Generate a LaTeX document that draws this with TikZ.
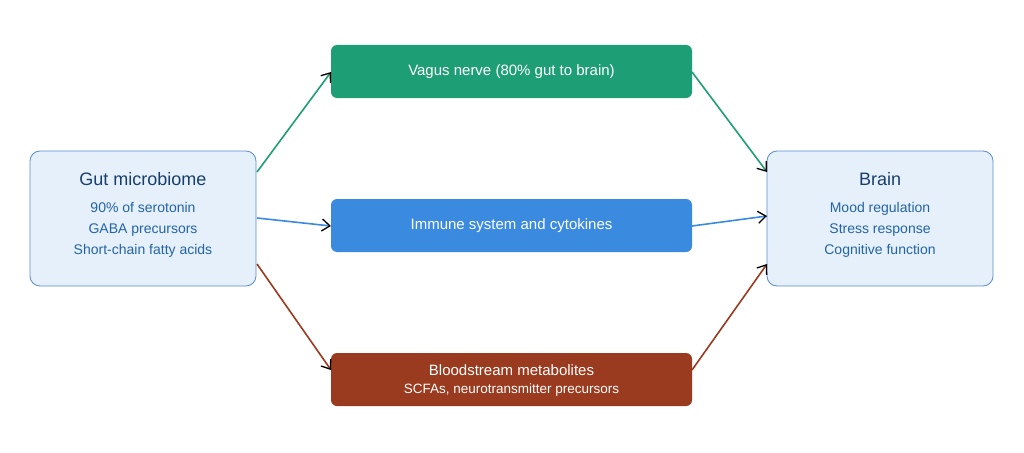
\documentclass[tikz,border=0pt]{standalone}
\usepackage{fontspec}
\setmainfont{Liberation Sans}
\usetikzlibrary{arrows.meta}
\definecolor{gfill}{HTML}{1E9E74}
\definecolor{bfill}{HTML}{3A8AE0}
\definecolor{rfill}{HTML}{9A3A1E}
\definecolor{lfill}{HTML}{E6F0FB}
\definecolor{lborder}{HTML}{5A8CCF}
\definecolor{ttl}{HTML}{173F6E}
\definecolor{sub}{HTML}{2364A8}
\tikzset{
 side/.style={draw=lborder, fill=lfill, rounded corners=10pt, line width=0.8pt, minimum width=226pt, minimum height=135pt, align=center},
 mid/.style={rounded corners=6pt, minimum width=361pt, minimum height=53pt, text=white, align=center, font=\fontsize{15}{18}\selectfont},
 conn/.style={line width=1.6pt, -{Straight Barb[color=black,length=8pt,width=12pt,line width=1.3pt]}},
}
\begin{document}
\begin{tikzpicture}[x=1pt,y=-1pt]
\useasboundingbox (0,0) rectangle (1024,452);
\node[side] (gut) at (143,218.5) {};
\node[font=\fontsize{18}{22}\selectfont, text=ttl] (gutt) at (143,179) {Gut microbiome};
\node[font=\fontsize{14}{17}\selectfont, text=sub, align=center] (guts) at (143,230) {90\% of serotonin\\[4pt]GABA precursors\\[4pt]Short-chain fatty acids};
\node[side] (brain) at (880,218.5) {};
\node[font=\fontsize{18}{22}\selectfont, text=ttl] (braint) at (880,179) {Brain};
\node[font=\fontsize{14}{17}\selectfont, text=sub, align=center] (brains) at (880,230) {Mood regulation\\[4pt]Stress response\\[4pt]Cognitive function};
\node[mid, fill=gfill] (vagus) at (511.5,71.5) {Vagus nerve (80\% gut to brain)};
\node[mid, fill=bfill] (imm) at (511.5,225.5) {Immune system and cytokines};
\node[mid, fill=rfill] (blood) at (511.5,379.5) {};
\node[text=white, font=\fontsize{15}{18}\selectfont] (bt) at (511.5,370) {Bloodstream metabolites};
\node[text=white, font=\fontsize{13.5}{16}\selectfont] (bs) at (511.5,390) {SCFAs, neurotransmitter precursors};
\coordinate (g1) at (257,172); \coordinate (g2) at (257,218); \coordinate (g3) at (257,264);
\coordinate (b1) at (767,172); \coordinate (b2) at (767,216); \coordinate (b3) at (767,264);
\coordinate (v1) at (331,72); \coordinate (v2) at (692,72);
\coordinate (i1) at (331,226); \coordinate (i2) at (692,226);
\coordinate (r1) at (331,370); \coordinate (r2) at (692,370);
\draw[conn, gfill] (g1) -- (v1);
\draw[conn, gfill] (v2) -- (b1);
\draw[conn, bfill] (g2) -- (i1);
\draw[conn, bfill] (i2) -- (b2);
\draw[conn, rfill] (g3) -- (r1);
\draw[conn, rfill] (r2) -- (b3);
\end{tikzpicture}
\end{document}
